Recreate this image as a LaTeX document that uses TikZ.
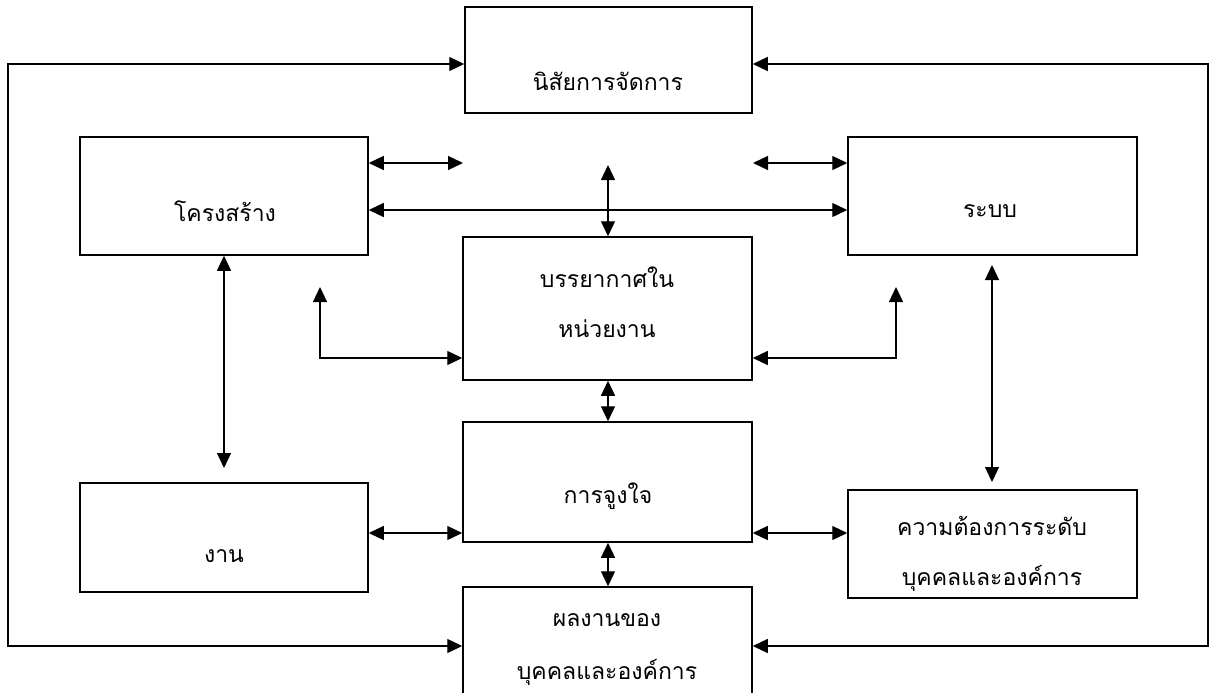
\documentclass[tikz,border=0pt]{standalone}
\usepackage{fontspec}
\newfontfamily\thaifont[Script=Thai]{Loma}
\usetikzlibrary{arrows.meta}
\tikzset{
  box/.style={draw, line width=1.5pt, inner sep=0pt},
  txt/.style={font=\thaifont\fontsize{23}{50}\selectfont, align=center, inner sep=0pt},
  conn/.style={line width=1.3pt, {Triangle[length=15pt,width=14pt]}-{Triangle[length=15pt,width=14pt]}},
}
\begin{document}
\begin{tikzpicture}[x=1pt,y=-1pt]
\fill[white] (0,0) rectangle (1210,693);
\useasboundingbox (0,0) rectangle (1210,693);
\begin{scope}
\clip (0,0) rectangle (1210,693);
% boxes
\node[box, minimum width=287pt, minimum height=106pt] (top) at (608.5,60) {};
\node[box, minimum width=288pt, minimum height=118pt] (struct) at (224,196) {};
\node[box, minimum width=289pt, minimum height=118pt] (sys) at (992.5,196) {};
\node[box, minimum width=289pt, minimum height=143pt] (clim) at (607.5,308.5) {};
\node[box, minimum width=289pt, minimum height=120pt] (motiv) at (607.5,482) {};
\node[box, minimum width=288pt, minimum height=109pt] (work) at (224,537.5) {};
\node[box, minimum width=289pt, minimum height=108pt] (needs) at (992.5,544) {};
\node[box, minimum width=289pt, minimum height=113pt] (bot) at (607.5,643.5) {};
% texts
\node[txt] (ttop) at (608,81) {นิสัยการจัดการ};
\node[txt] (tstruct) at (225,211) {โครงสร้าง};
\node[txt] (tsys) at (990,211) {ระบบ};
\node[txt] (tclim) at (607,302) {บรรยากาศใน\\หน่วยงาน};
\node[txt] (tmotiv) at (608,496) {การจูงใจ};
\node[txt] (twork) at (224,556) {งาน};
\node[txt] (tneeds) at (992,554) {ความต้องการระดับ\\บุคคลและองค์การ};
\node[txt, font=\thaifont\fontsize{23}{53}\selectfont] (tbot) at (607,650) {ผลงานของ\\บุคคลและองค์การ};
% coordinates
\coordinate (LT) at (8,64);
\coordinate (LB) at (8,646);
\coordinate (RT) at (1208,64);
\coordinate (RB) at (1208,646);
\coordinate (c1) at (463,163);
\coordinate (c2) at (753,163);
\coordinate (c3) at (608,165);
\coordinate (c4) at (224,468);
\coordinate (c5) at (992,265);
\coordinate (c6) at (992,482);
\coordinate (e1) at (320,287);
\coordinate (e1b) at (320,358);
\coordinate (e2) at (896,287);
\coordinate (e2b) at (896,358);
% connectors
\draw[conn] (top.west |- LT) -- (LT) -- (LB) -- (bot.west |- LB);
\draw[conn] (top.east |- RT) -- (RT) -- (RB) -- (bot.east |- RB);
\draw[conn] (struct.east |- c1) -- (c1);
\draw[conn] (c2) -- (sys.west |- c2);
\draw[conn] (struct.east |- 0,210) -- (sys.west |- 0,210);
\draw[conn] (c3) -- (clim.north -| c3);
\draw[conn] (struct.south -| c4) -- (c4);
\draw[conn] (c5) -- (c6);
\draw[conn] (e1) -- (e1b) -- (clim.west |- e1b);
\draw[conn] (clim.east |- e2b) -- (e2b) -- (e2);
\draw[conn] (clim.south -| c3) -- (motiv.north -| c3);
\draw[conn] (motiv.south -| c3) -- (bot.north -| c3);
\draw[conn] (work.east |- 0,533) -- (motiv.west |- 0,533);
\draw[conn] (motiv.east |- 0,533) -- (needs.west |- 0,533);
\end{scope}
\end{tikzpicture}
\end{document}
